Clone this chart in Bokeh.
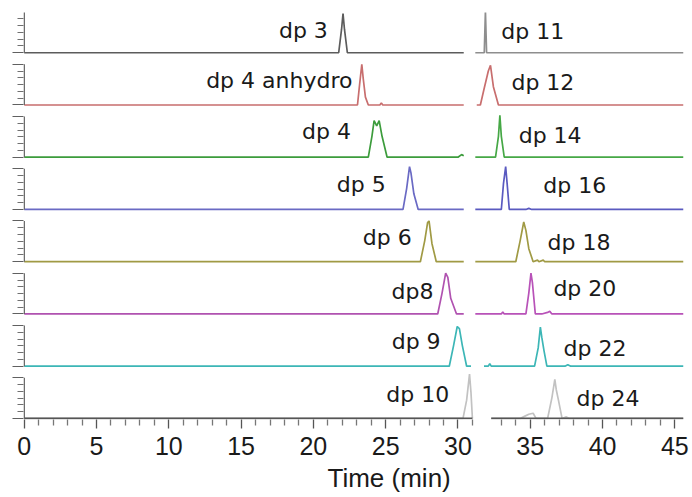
from bokeh.plotting import figure
from bokeh.models import FixedTicker, Range1d, ColumnDataSource, Title, CustomJSTickFormatter
from bokeh.core.properties import value
from bokeh.embed import file_html
from bokeh.resources import INLINE

# ---------------- data ----------------
# row order: top to bottom
row_colors = ["#5c5c5c", "#c86e6e", "#3c9c3c", "#6a6ac4", "#a09a44", "#b052b0", "#3cb6b6", "#c2c2c2"]
right_colors = ["#8e8e8e", "#c86e6e", "#46a846", "#5a5ac0", "#a09a44", "#b852b8", "#3cb6b6", "#c2c2c2"]

# left panel chromatograms (time in min, relative intensity)
left_names = ["dp 3", "dp 4 anhydro", "dp 4", "dp 5", "dp 6", "dp8", "dp 9", "dp 10"]
left_t = [
    [0, 21.75, 21.95, 22.05, 22.15, 22.35, 30.4],
    [0, 23.05, 23.2, 23.35, 23.45, 23.6, 23.8, 24.6, 24.7, 24.8, 30.4],
    [0, 23.8, 24.05, 24.2, 24.38, 24.55, 24.75, 25.1, 30.0, 30.25, 30.4],
    [0, 26.2, 26.45, 26.65, 26.75, 26.95, 27.25, 30.4],
    [0, 27.4, 27.7, 27.9, 28.0, 28.2, 28.5, 30.4],
    [0, 28.6, 28.9, 29.15, 29.3, 29.5, 29.9, 30.4],
    [0, 29.4, 29.7, 29.95, 30.1, 30.3, 30.6, 30.9],
    [0, 30.35, 30.6, 30.8, 30.9, 31.0],
]
left_y = [
    [0, 0, 0.45, 0.75, 0.45, 0, 0],
    [0, 0, 0.4, 0.78, 0.5, 0.15, 0, 0, 0.04, 0, 0],
    [0, 0, 0.4, 0.7, 0.6, 0.7, 0.4, 0, 0, 0.05, 0.03],
    [0, 0, 0.4, 0.82, 0.7, 0.3, 0, 0],
    [0, 0, 0.4, 0.75, 0.78, 0.35, 0, 0],
    [0, 0, 0.4, 0.78, 0.7, 0.3, 0, 0],
    [0, 0, 0.4, 0.76, 0.72, 0.4, 0, 0],
    [0, 0, 0.35, 0.85, 0.5, 0],
]
left_label_t = [21.0, 22.7, 22.6, 25.0, 26.8, 28.3, 28.8, 29.4]
left_label_h = [0.43, 0.47, 0.49, 0.47, 0.47, 0.43, 0.47, 0.45]

# right panel chromatograms
right_names = ["dp 11", "dp 12", "dp 14", "dp 16", "dp 18", "dp 20", "dp 22", "dp 24"]
right_t = [
    [31.2, 31.82, 31.9, 31.98, 45.6],
    [31.3, 31.55, 31.8, 32.1, 32.25, 32.45, 32.8, 45.6],
    [31.2, 32.6, 32.8, 32.9, 33.0, 33.2, 45.6],
    [31.2, 33.0, 33.15, 33.3, 33.4, 33.55, 34.7, 34.9, 35.1, 45.6],
    [31.2, 34.0, 34.3, 34.55, 34.7, 34.9, 35.2, 35.5, 35.6, 35.9, 36.0, 45.6],
    [31.2, 33.0, 33.1, 33.2, 34.7, 34.9, 35.05, 35.15, 35.35, 35.8, 36.2, 36.35, 36.5, 45.6],
    [31.8, 32.1, 32.2, 32.3, 35.3, 35.55, 35.7, 35.8, 35.95, 36.15, 37.4, 37.6, 37.8, 45.6],
    [32.3, 34.3, 34.6, 34.9, 35.2, 35.4, 36.2, 36.5, 36.7, 36.8, 36.95, 37.2, 37.5, 37.7, 45.6],
]
right_y = [
    [0, 0, 0.8, 0, 0],
    [0, 0, 0.3, 0.65, 0.76, 0.35, 0, 0],
    [0, 0, 0.4, 0.8, 0.4, 0, 0],
    [0, 0, 0.5, 0.82, 0.5, 0, 0, 0.02, 0, 0],
    [0, 0, 0.4, 0.76, 0.6, 0.25, 0, 0.03, 0, 0.03, 0, 0],
    [0, 0, 0.04, 0, 0, 0.4, 0.78, 0.6, 0, 0, 0.03, 0.05, 0, 0],
    [0, 0, 0.05, 0, 0, 0.35, 0.75, 0.55, 0.3, 0, 0, 0.03, 0, 0],
    [0, 0, 0.04, 0.08, 0.1, 0, 0, 0.4, 0.75, 0.55, 0.35, 0, 0.03, 0, 0],
]
right_label_t = [33.0, 33.7, 34.2, 35.9, 36.2, 36.6, 37.3, 38.2]
right_label_h = [0.41, 0.43, 0.41, 0.45, 0.37, 0.49, 0.33, 0.39]

x_major = [0, 5, 10, 15, 20, 25, 30, 35, 40, 45]
x_minor = [m for m in range(1, 46) if m % 5 != 0 and m not in (32,)]
axis_spans = [(0, 31.0), (32.3, 45.6)]   # broken time axis
x_title = "Time (min)"
n_rows = len(left_names)
row_axis_top = 0.78                      # height of each row's intensity axis

# ---------------- figure ----------------
p = figure(width=690, height=495, x_range=Range1d(-0.05, 45.6), y_range=Range1d(-0.02, 7.77),
           output_backend="svg", toolbar_location=None,
           min_border_left=23, min_border_right=7, min_border_top=12, min_border_bottom=70)
p.xgrid.visible = False
p.ygrid.visible = False
p.outline_line_color = None
p.background_fill_color = "white"

offsets = [n_rows - 1 - i for i in range(n_rows)]

for i in range(n_rows):
    off = offsets[i]
    p.line(left_t[i], [v + off for v in left_y[i]], line_color=row_colors[i], line_width=1.7)
    p.line(right_t[i], [v + off for v in right_y[i]], line_color=right_colors[i], line_width=1.7)

# per-row intensity axes (vertical lines)
p.segment(x0=[0] * n_rows, x1=[0] * n_rows, y0=offsets, y1=[o + row_axis_top for o in offsets],
          line_color="#606060", line_width=1.4)
# broken time axis line
p.segment(x0=[a for a, b in axis_spans], x1=[b for a, b in axis_spans], y0=[0, 0], y1=[0, 0],
          line_color="#555555", line_width=1.7)

lab_src_l = ColumnDataSource(dict(x=left_label_t, y=[o + h for o, h in zip(offsets, left_label_h)], text=left_names))
lab_src_r = ColumnDataSource(dict(x=right_label_t, y=[o + h for o, h in zip(offsets, right_label_h)], text=right_names))
p.text(x="x", y="y", text="text", source=lab_src_l, text_align="right", text_baseline="middle",
       text_font=value("DejaVu Sans"), text_font_size="22px", text_color="#1a1a1a")
p.text(x="x", y="y", text="text", source=lab_src_r, text_align="left", text_baseline="middle",
       text_font=value("DejaVu Sans"), text_font_size="22px", text_color="#1a1a1a")

# y axis ticks per row (no numbers)
y_major = []
y_minor = []
for o in offsets:
    y_major += [o, o + row_axis_top]
    y_minor += [o + row_axis_top * j / 6 for j in range(1, 6)]
ya = p.yaxis[0]
ya.ticker = FixedTicker(ticks=y_major, minor_ticks=y_minor)
ya.formatter = CustomJSTickFormatter(code="return ''")
ya.axis_line_color = None
ya.major_tick_out = 11
ya.major_tick_in = 0
ya.minor_tick_out = 6
ya.minor_tick_in = 0
ya.major_tick_line_color = "#606060"
ya.minor_tick_line_color = "#707070"
ya.major_tick_line_width = 1.2
ya.minor_tick_line_width = 1.2
ya.major_label_standoff = 0

xa = p.xaxis[0]
xa.ticker = FixedTicker(ticks=x_major, minor_ticks=x_minor)
xa.axis_line_color = None
xa.major_tick_out = 9
xa.major_tick_in = 0
xa.minor_tick_out = 6
xa.minor_tick_in = 0
xa.major_tick_line_color = "#555555"
xa.minor_tick_line_color = "#777777"
xa.major_tick_line_width = 1.3
xa.minor_tick_line_width = 1.3
xa.major_label_text_font = "Liberation Sans"
xa.major_label_text_font_size = "25px"
xa.major_label_text_color = "#1a1a1a"
xa.major_label_standoff = 8

p.add_layout(Title(text=x_title, align="left", offset=304, standoff=6,
                   text_font="Liberation Sans", text_font_size="26px", text_font_style="normal",
                   text_color="#1a1a1a"), "below")

open("out.html", "w").write(file_html(p, INLINE))
